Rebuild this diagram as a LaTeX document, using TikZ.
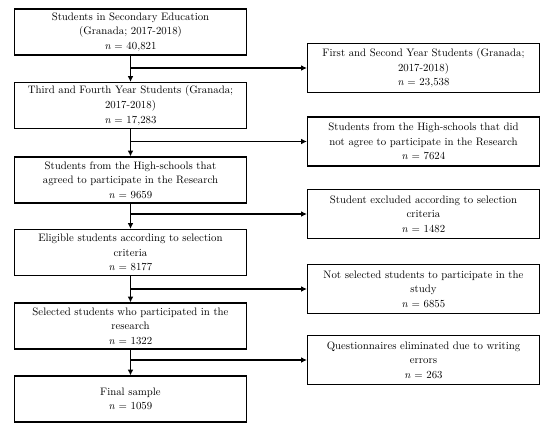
\documentclass[tikz,border=0pt]{standalone}
\usepackage{tikz}
\usetikzlibrary{arrows.meta}

\tikzset{
  leftbox/.style={draw,line width=1.2pt,text width=228pt,align=center,
    minimum height=46pt,inner sep=2pt,font=\fontsize{10.8}{14.6}\selectfont},
  rightbox/.style={leftbox,minimum height=49pt},
  flow/.style={line width=1.6pt,-{Latex[length=2mm,width=2mm]}}
}

\begin{document}
\begin{tikzpicture}[x=1pt,y=-1pt]
    \useasboundingbox (0,0) rectangle (550,432);
    % main column
    \node[leftbox] (sec) at (130.5,32) {Students in Secondary Education\\(Granada; 2017-2018)\\\textit{n} = 40,821};
    \node[leftbox] (third) at (130.5,105.5) {Third and Fourth Year Students (Granada;\\2017-2018)\\\textit{n} = 17,283};
    \node[leftbox] (agreed) at (130.5,180) {Students from the High-schools that\\agreed to participate in the Research\\\textit{n} = 9659};
    \node[leftbox] (eligible) at (130.5,252.5) {Eligible students according to selection\\criteria\\\textit{n} = 8177};
    \node[leftbox] (selected) at (130.5,326) {Selected students who participated in the\\research\\\textit{n} = 1322};
    \node[leftbox] (final) at (130.5,399) {Final sample\\\textit{n} = 1059};
    % excluded column
    \node[rightbox] (first) at (423.5,68) {First and Second Year Students (Granada;\\2017-2018)\\\textit{n} = 23,538};
    \node[rightbox] (notagreed) at (423.5,141.5) {Students from the High-schools that did\\not agree to participate in the Research\\\textit{n} = 7624};
    \node[rightbox] (excluded) at (423.5,214) {Student excluded according to selection\\criteria\\\textit{n} = 1482};
    \node[rightbox] (notsel) at (423.5,289) {Not selected students to participate in the\\study\\\textit{n} = 6855};
    \node[rightbox] (errors) at (423.5,360) {Questionnaires eliminated due to writing\\errors\\\textit{n} = 263};
    % branch points
    \coordinate (j1) at (sec.south |- first.west);
    \coordinate (j2) at (third.south |- notagreed.west);
    \coordinate (j3) at (agreed.south |- excluded.west);
    \coordinate (j4) at (eligible.south |- notsel.west);
    \coordinate (j5) at (selected.south |- errors.west);
    \draw[flow] (sec) -- (third);
    \draw[flow] (third) -- (agreed);
    \draw[flow] (agreed) -- (eligible);
    \draw[flow] (eligible) -- (selected);
    \draw[flow] (selected) -- (final);
    \draw[flow] (j1) -- (first.west);
    \draw[flow] (j2) -- (notagreed.west);
    \draw[flow] (j3) -- (excluded.west);
    \draw[flow] (j4) -- (notsel.west);
    \draw[flow] (j5) -- (errors.west);
\end{tikzpicture}
\end{document}
